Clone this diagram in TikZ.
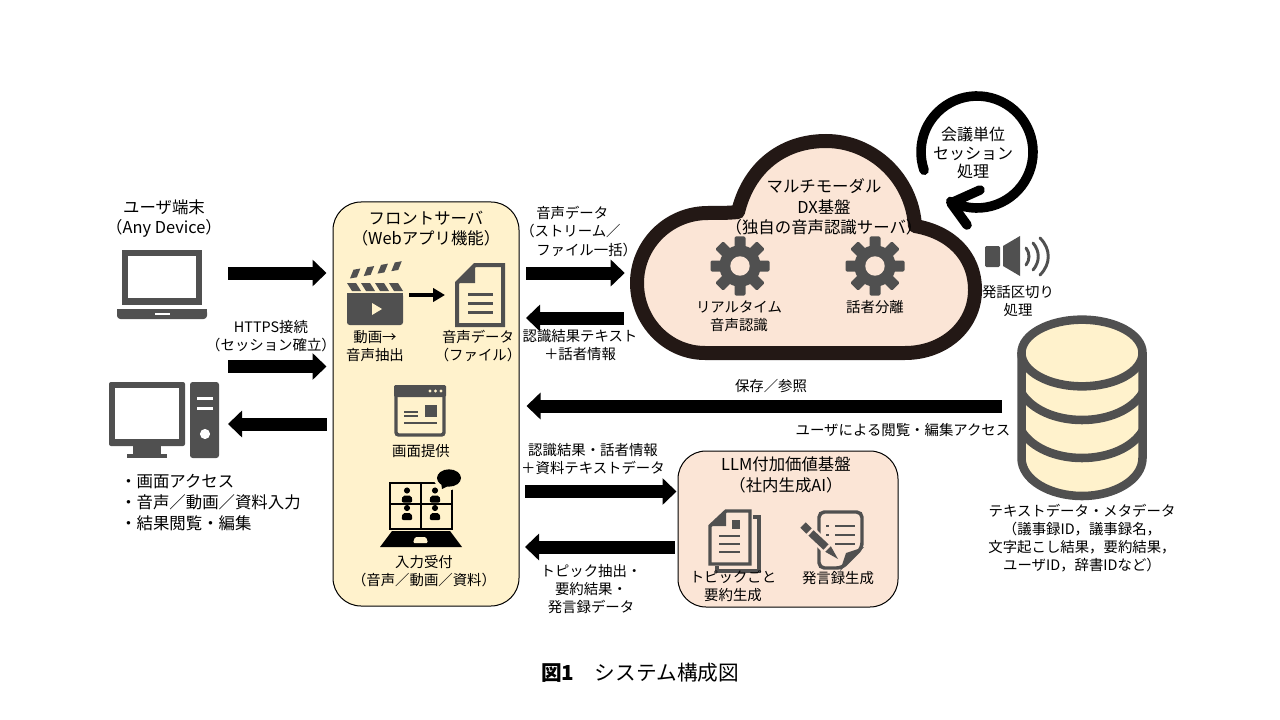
\documentclass[tikz,border=0pt]{standalone}
\usepackage{fontspec}
\setmainfont{Noto Sans CJK JP}
\usetikzlibrary{fit,positioning,arrows.meta}

\definecolor{iconcol}{HTML}{505050}
\definecolor{frontfill}{HTML}{FFF2CC}
\definecolor{basefill}{HTML}{FBE5D6}
\definecolor{cloudline}{HTML}{231815}

\tikzset{
  smalllab/.style={inner sep=0pt, align=center, font=\fontsize{10.8}{13.5}\selectfont},
  biglab/.style={inner sep=0pt, align=center, font=\fontsize{12.3}{15.5}\selectfont},
  panel/.style={draw=black, line width=.75pt, rounded corners=21pt, inner sep=0pt},
  bigarrow/.style={line width=9.75pt, -{Triangle[length=10.5pt,width=19.5pt]}},
  pics/gear/.style={code={
    \foreach \a in {0,45,...,315}
      \fill[iconcol, rotate=\a, rounded corners=1pt] (-5.5,-29.5) rectangle (5.5,0);
    \fill[iconcol] (0,0) circle [radius=15.5pt];
    \fill[basefill] (0,0) circle [radius=7.3pt];
  }},
  pics/person/.style={code={
    \fill[black] (0,-5) circle [radius=2.3pt];
    \fill[black, rounded corners=1.5pt] (-5.5,7) -- (-4.5,0) -- (4.5,0) -- (5.5,7) -- cycle;
  }}
}

\begin{document}
\begin{tikzpicture}[x=.75pt,y=-.75pt]
    \useasboundingbox (0,0) rectangle (1280,720);

    % panels
    \node (front) [panel, fill=frontfill, fit={(333,202) (519,606)}] {};
    \node (llm) [panel, fill=basefill, fit={(678,451) (898,607)}] {};

    % cloud
    \fill[basefill, draw=cloudline, line width=10.5pt, line join=round]
      (705,353) -- (905,353)
      .. controls (945,353) and (975,325) .. (975,290)
      .. controls (975,255) and (950,232) .. (915,226)
      .. controls (912,178) and (872,141) .. (826,141)
      .. controls (780,141) and (748,170) .. (738,212)
      .. controls (728,213) and (720,213) .. (708,213)
      .. controls (668,213) and (637,245) .. (637,283)
      .. controls (637,322) and (668,353) .. (705,353) -- cycle;
    \node (cloud) [inner sep=0pt, fit={(630,135) (982,360)}] {};
    \pic (gearA) at (740,266) {gear};
    \pic (gearB) at (875,266) {gear};

    % session loop
    \draw[black, line width=7.2pt, line cap=round, line join=round]
      plot[domain=161:478, samples=60] ({977+56*cos(\x)},{152+56*sin(\x)})
      (980,190) -- (951,203) -- (967,225);

    % speaker
    \fill[iconcol, rounded corners=1pt] (985,246) rectangle (1000,267);
    \fill[iconcol] (1003,246) -- (1020,236) -- (1020,276) -- (1003,266) -- cycle;
    \draw[iconcol, line width=2.2pt, line cap=round]
      (1026,248) .. controls (1030,253) and (1030,260) .. (1026,265)
      (1033,243) .. controls (1040,251) and (1040,262) .. (1033,270)
      (1040,238) .. controls (1051,249) and (1051,264) .. (1040,275);

    % database
    \fill[frontfill] (1021.5,353) -- (1021.5,458) .. controls (1021.5,480) and (1050,496) .. (1082,496)
      .. controls (1114,496) and (1142.5,480) .. (1142.5,458) -- (1142.5,353) -- cycle;
    \draw[iconcol, line width=6.4pt, fill=frontfill] (1082,353) ellipse [x radius=45.4pt, y radius=25pt];
    \draw[iconcol, line width=6.4pt] (1021.5,353) -- (1021.5,458)
      .. controls (1021.5,480) and (1050,496) .. (1082,496)
      .. controls (1114,496) and (1142.5,480) .. (1142.5,458) -- (1142.5,353);
    \foreach \y in {0,38}
      \draw[iconcol, line width=6.4pt] (1021.5,393+\y) .. controls (1032,410+\y) and (1056,420+\y) .. (1082,420+\y)
        .. controls (1108,420+\y) and (1132,410+\y) .. (1142.5,393+\y);
    \node (db) [inner sep=0pt, fit={(1017,315) (1147,500)}] {};

    % laptop
    \fill[iconcol] (122,250) rectangle (202,305);
    \fill[white] (128,256) rectangle (196,298);
    \fill[iconcol, rounded corners=2.5pt] (117,309) -- (207,309) -- (207,319) -- (117,319) -- cycle;
    \fill[iconcol] (117,309) rectangle (207,314);
    \fill[white] (155,313) rectangle (170,315);

    % desktop
    \fill[iconcol, rounded corners=1.5pt] (109,382) rectangle (185,446);
    \fill[white] (115,388) rectangle (179,439);
    \fill[iconcol] (133,446) rectangle (161,455);
    \fill[iconcol] (127,454) rectangle (167,458);
    \fill[iconcol, rounded corners=2pt] (190,382) rectangle (219,458);
    \fill[white] (197,397) rectangle (213,399.5);
    \fill[white] (197,407) rectangle (213,409.5);
    \fill[white] (205,434) circle [radius=3.8pt];

    % clapper
    \fill[iconcol, rounded corners=2pt] (347,293) rectangle (403,325);
    \fill[iconcol] (347,293) rectangle (403,300);
    \fill[frontfill] (372,303) -- (382,309) -- (372,315) -- cycle;
    \foreach \x in {347,361,375,389}
      \fill[iconcol] (\x,283) -- (\x+9,283) -- (\x+14,291) -- (\x+5,291) -- cycle;
    \begin{scope}[rotate around={10:(347,279)}]
      \foreach \x in {350,364,378,392}
        \fill[iconcol] (\x+5,271) -- (\x+12,271) -- (\x+7,279) -- (\x,279) -- cycle;
    \end{scope}

    % audio file
    \draw[iconcol, line width=3pt, fill=frontfill] (475,265) -- (503,265) -- (503,325) -- (457,325) -- (457,283) -- cycle;
    \fill[iconcol] (475,265) -- (475,283) -- (457,283) -- cycle;
    \foreach \y in {294,303,312}
      \fill[iconcol] (468,\y-1.5) rectangle (493,\y+1.5);

    % screen icon
    \draw[iconcol, line width=2.6pt, fill=frontfill, rounded corners=2pt] (396,387) rectangle (444,435);
    \fill[iconcol, rounded corners=1pt] (394,385) rectangle (446,397);
    \foreach \x in {430,435.5,441}
      \fill[frontfill] (\x,391) circle [radius=1.2pt];
    \fill[iconcol] (404,411) rectangle (418,413);
    \fill[iconcol] (404,415) rectangle (418,417);
    \fill[iconcol] (425,405) rectangle (437,417);
    \fill[iconcol] (404,422) rectangle (437,424);

    % web conference
    \draw[black, line width=2.2pt] (390,483) rectangle (452,529);
    \draw[black, line width=1.5pt] (421,483) -- (421,529) (390,504) -- (452,504);
    \pic (pA) at (407,495.5) {person};
    \pic (pB) at (435,495.5) {person};
    \pic (pC) at (407,513) {person};
    \pic (pD) at (435,513) {person};
    \fill[black] (380,547) -- (462,547) -- (450,531) -- (392,531) -- cycle;
    \fill[frontfill, rounded corners=1pt] (413,543) -- (415,537) -- (426,537) -- (428,543) -- cycle;
    \fill[frontfill] (449,478) ellipse [x radius=11.5pt, y radius=9pt];
    \fill[black] (449,478) ellipse [x radius=9pt, y radius=6.5pt];
    \fill[black] (441,482) -- (448,486) -- (442,489) -- cycle;

    % documents
    \draw[iconcol, line width=2.4pt, line join=miter] (753,517) -- (759,517) -- (759,571) -- (717,571) -- (717,566);
    \draw[iconcol, line width=2.6pt, fill=basefill] (726,511) -- (750,511) -- (750,564) -- (710,564) -- (710,526) -- cycle;
    \fill[iconcol] (726,511) -- (726,526) -- (710,526) -- cycle;
    \fill[iconcol] (732,520) rectangle (740,529);
    \foreach \y in {536,544,552}
      \fill[iconcol] (719,\y-1.2) rectangle (740,\y+1.2);

    % minutes with pencil
    \draw[iconcol, line width=2.6pt, fill=basefill, rounded corners=4pt]
      (819,568) -- (819,512) -- (862,512) -- (862,548) -- (842,568) -- cycle;
    \fill[iconcol] (864,547) -- (840,571) -- (846,553) -- cycle;
    \foreach \y in {526,535,544} {
      \fill[iconcol] (835,\y-1.2) rectangle (855,\y+1.2);
      \fill[iconcol] (825.5,\y-1.2) rectangle (829,\y+1.2);
    }
    \draw[basefill, line width=9pt] (803,525) -- (835,556);
    \draw[iconcol, line width=5.6pt] (803,525) -- (809,531);
    \draw[iconcol, line width=5.6pt] (811,533) -- (826,547);
    \fill[iconcol] (830.8,546.2) -- (838,559) -- (825.2,551.8) -- cycle;

    % free ends of the connectors
    \coordinate (lapout) at (228,273);
    \coordinate (pcin) at (228,366.5);
    \coordinate (pcout) at (228,424);
    \coordinate (voiceup) at (526,273);
    \coordinate (textdown) at (526,318);
    \coordinate (dbout) at (1002,406);
    \coordinate (llmup) at (525,491.5);
    \coordinate (llmdown) at (525,547);
    \coordinate (clapout) at (409,295);
    \coordinate (audioin) at (445,295);

    \draw[bigarrow, shorten >=4.5pt] (lapout) -- (front.west |- lapout);
    \draw[bigarrow, shorten >=4.5pt] (pcin) -- (front.west |- pcin);
    \draw[bigarrow, shorten <=4.5pt] (front.west |- pcout) -- (pcout);
    \draw[bigarrow, shorten >=3.75pt] (voiceup) -- (cloud.west |- voiceup);
    \draw[bigarrow, shorten <=4.5pt] (cloud.west |- textdown) -- (textdown);
    \draw[bigarrow, shorten >=5.25pt] (dbout) -- (front.east |- dbout);
    \draw[bigarrow, shorten >=.75pt] (llmup) -- (llm.west |- llmup);
    \draw[bigarrow, shorten <=2.25pt] (llm.west |- llmdown) -- (llmdown);
    \draw[line width=2.8pt, -{Triangle[length=9pt,width=10pt]}] (clapout) -- (audioin);

    % texts
    \node (user) [biglab] at (164,218.5) {ユーザ端末\\（Any Device）};
    \node (https) [smalllab] at (271,336.5) {HTTPS接続\\（セッション確立）};
    \node (uses) [biglab, align=left, anchor=west, text depth=0pt] at (120,502) {・画面アクセス\\・音声／動画／資料入力\\・結果閲覧・編集};
    \node (fronttitle) [biglab] at (426,228.5) {フロントサーバ\\（Webアプリ機能）};
    \node (extract) [smalllab] at (375,346.5) {動画→\\音声抽出};
    \node (audiofile) [smalllab] at (478,346.5) {音声データ\\（ファイル）};
    \node (voicelab) [smalllab, align=left, anchor=west, font=\fontsize{10.8}{14}\selectfont] at (520,231.5) {\hspace*{12pt}音声データ\\（ストリーム／\\\hspace*{12pt}ファイル一括）};
    \node (textlab) [smalllab] at (580,345) {認識結果テキスト\\＋話者情報};
    \node (screen) [smalllab] at (421,451.5) {画面提供};
    \node (input) [smalllab] at (424,571.5) {入力受付\\（音声／動画／資料）};
    \node (cloudtitle) [biglab] at (824,207) {マルチモーダル\\DX基盤\\（独自の音声認識サーバ）};
    \node (realtime) [smalllab] at (739,316) {リアルタイム\\音声認識};
    \node (speaker) [smalllab] at (875,307) {話者分離};
    \node (session) [biglab, font=\fontsize{12}{14}\selectfont] at (973,153) {会議単位\\セッション\\処理};
    \node (vad) [smalllab] at (1018,301) {発話区切り\\処理};
    \node (store) [smalllab] at (771,386) {保存／参照};
    \node (access) [smalllab] at (903,430) {ユーザによる閲覧・編集アクセス};
    \node (dblab) [smalllab] at (1082,538.5) {テキストデータ・メタデータ\\（議事録ID，議事録名，\\文字起こし結果，要約結果，\\ユーザID，辞書IDなど）};
    \node (tollm) [smalllab] at (593,459.5) {認識結果・話者情報\\＋資料テキストデータ};
    \node (fromllm) [smalllab] at (591,589) {トピック抽出・\\要約結果・\\発言録データ};
    \node (llmtitle) [biglab] at (786,475) {LLM付加価値基盤\\（社内生成AI）};
    \node (summary) [smalllab] at (733,586.5) {トピックごと\\要約生成};
    \node (minutes) [smalllab] at (838,578) {発言録生成};
    \node (caption) [inner sep=0pt, font=\fontsize{15.5}{18}\selectfont] at (640,673) {{\bfseries 図1}　システム構成図};
\end{tikzpicture}
\end{document}
